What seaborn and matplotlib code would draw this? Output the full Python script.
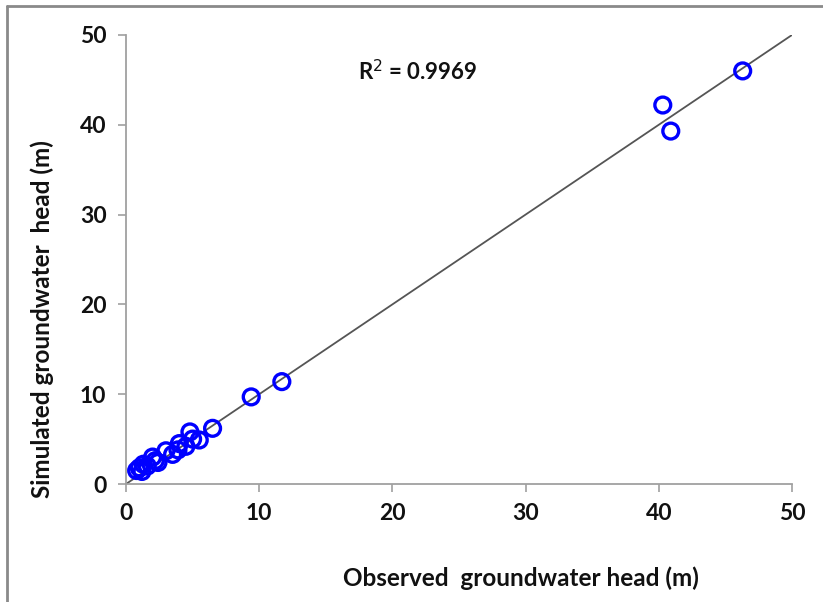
import matplotlib
matplotlib.use("Agg")
import matplotlib.pyplot as plt
from matplotlib.lines import Line2D
import seaborn as sns
import pandas as pd

# Observed vs simulated groundwater head (m) at the monitoring wells
observed = [46.3, 40.3, 40.9, 11.7, 9.4, 6.5, 4.8, 5.5, 4.5, 4.0,
            3.5, 3.0, 2.2, 2.0, 1.6, 1.2, 1.0, 1.3, 0.8, 5.0, 2.4, 3.9]
simulated = [46.0, 42.2, 39.3, 11.4, 9.7, 6.2, 5.8, 4.9, 4.2, 4.5,
             3.3, 3.7, 2.6, 3.0, 2.0, 1.4, 1.8, 2.2, 1.5, 5.0, 2.4, 3.8]
r_squared = 0.9969
ticks = [0, 10, 20, 30, 40, 50]

df = pd.DataFrame({"observed": observed, "simulated": simulated})

sns.set_theme(style="white")
plt.rcParams["font.family"] = ["Lato", "DejaVu Sans"]

fig = plt.figure(figsize=(8.23, 6.02), dpi=100)
ax = fig.add_axes([0.1531, 0.196, 0.8092, 0.7459])

# 1:1 line
ax.plot([0, 50], [0, 50], color="#555555", lw=1.3, zorder=1)

sns.scatterplot(data=df, x="observed", y="simulated", ax=ax, marker="o",
                s=130, color="#0000ff", edgecolor="#0000ff", linewidth=2.4,
                zorder=2)
ax.collections[0].set_facecolor("none")

ax.set_xlim(0, 50)
ax.set_ylim(0, 50)
ax.set_xticks(ticks)
ax.set_yticks(ticks)
ax.tick_params(axis="both", which="major", direction="out", length=6,
               width=1.2, color="#a0a0a0", labelsize=16.5, pad=8,
               left=True, bottom=True, labelcolor="#111111")
for lab in ax.get_xticklabels() + ax.get_yticklabels():
    lab.set_fontweight("bold")

for side in ("top", "right"):
    ax.spines[side].set_visible(False)
for side in ("left", "bottom"):
    ax.spines[side].set_color("#a0a0a0")
    ax.spines[side].set_linewidth(1.3)

ax.set_xlabel("Observed  groundwater head (m)", fontsize=17.5,
              fontweight="bold", color="#111111")
ax.set_ylabel("Simulated groundwater  head (m)", fontsize=17.5,
              fontweight="bold", color="#111111")
ax.xaxis.set_label_coords(0.593, -0.183)
ax.yaxis.set_label_coords(-0.108, 0.368)

ax.text(21.9, 45.9, f"R$^2$ = {r_squared}", ha="center", va="center",
        fontsize=16, fontweight="bold", color="#111111")

# Outer frame along the left and top edges
fig.add_artist(Line2D([7 / 823, 7 / 823], [0, 1 - 6 / 602],
                      transform=fig.transFigure, color="#8a8a8a", lw=2))
fig.add_artist(Line2D([7 / 823, 1], [1 - 6 / 602, 1 - 6 / 602],
                      transform=fig.transFigure, color="#8a8a8a", lw=2))

fig.savefig("out.png", dpi=100)
